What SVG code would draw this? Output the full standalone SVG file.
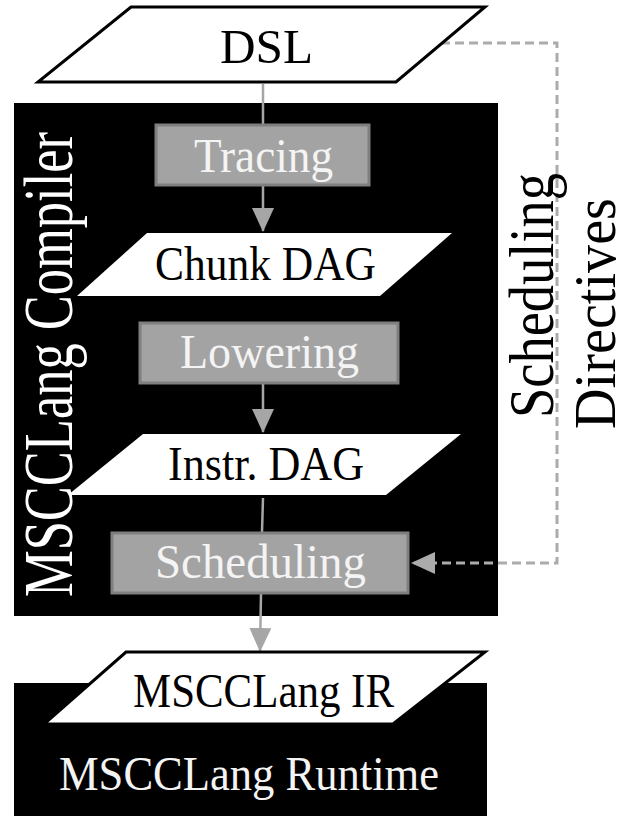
<svg xmlns="http://www.w3.org/2000/svg" width="618" height="816" viewBox="0 0 618 816">
<style>
  text { font-family: "Liberation Serif", "Times New Roman", serif; }
  .data { fill: #ffffff; stroke: #000000; stroke-width: 3; stroke-linejoin: miter; }
  .datain { fill: #ffffff; stroke: none; }
  .proc { fill: #a3a3a3; stroke: #7f7f7f; stroke-width: 3; }
  .block { fill: #000000; }
  .lbl { font-size: 48px; fill: #000000; }
  .plbl { font-size: 48px; fill: #f4f4f4; }
  .wlbl { fill: #ffffff; }
  .conn { stroke: #a6a6a6; stroke-width: 2.5; fill: none; }
  .dash { stroke: #ababab; stroke-width: 3; fill: none; stroke-dasharray: 9 5; }
</style>
<defs>
  <marker id="ah" markerUnits="userSpaceOnUse" markerWidth="24" markerHeight="22" refX="23" refY="11" orient="auto">
    <path d="M0,0 L24,11 L0,22 z" fill="#a6a6a6"/>
  </marker>
  <marker id="ahd" markerUnits="userSpaceOnUse" markerWidth="24" markerHeight="22" refX="23" refY="11" orient="auto">
    <path d="M0,0 L24,11 L0,22 z" fill="#ababab"/>
  </marker>
</defs>

<g id="compiler">
  <rect class="block" x="14" y="103" width="484" height="513"/>
  <text class="wlbl" font-size="70" transform="translate(72,597) rotate(-90)" textLength="465" lengthAdjust="spacingAndGlyphs">MSCCLang Compiler</text>
</g>

<g id="runtime">
  <rect class="block" x="14" y="683" width="473" height="133"/>
  <text class="plbl" x="59" y="790" fill="#ffffff" textLength="380" lengthAdjust="spacingAndGlyphs">MSCCLang Runtime</text>
</g>

<g id="connectors">
  <line class="conn" x1="263" y1="84" x2="263" y2="124"/>
  <line class="conn" x1="263" y1="186" x2="263" y2="231" marker-end="url(#ah)"/>
  <line class="conn" x1="263" y1="384" x2="263" y2="432" marker-end="url(#ah)"/>
  <line class="conn" x1="263" y1="498" x2="262" y2="532"/>
  <line class="conn" x1="261" y1="594" x2="260" y2="651" marker-end="url(#ah)"/>
  <path class="dash" d="M441,43 H557 V563 H412" marker-end="url(#ahd)"/>
</g>

<g id="dsl">
  <polygon class="data" points="131,7 485,7 396,82 38,82"/>
  <text class="lbl" font-size="53" x="220" y="63" textLength="93" lengthAdjust="spacingAndGlyphs">DSL</text>
</g>

<g id="tracing">
  <rect class="proc" x="156" y="125" width="213" height="60"/>
  <text class="plbl" x="194" y="172" textLength="139" lengthAdjust="spacingAndGlyphs">Tracing</text>
</g>

<g id="chunkdag">
  <polygon class="datain" points="147,233 452,233 380,296 77,296"/>
  <text class="lbl" x="155" y="280" textLength="221" lengthAdjust="spacingAndGlyphs">Chunk DAG</text>
</g>

<g id="lowering">
  <rect class="proc" x="140" y="323" width="258" height="60"/>
  <text class="plbl" x="180" y="368" textLength="179" lengthAdjust="spacingAndGlyphs">Lowering</text>
</g>

<g id="instrdag">
  <polygon class="datain" points="143,434 461,434 386,495 68,495"/>
  <text class="lbl" x="168" y="480" textLength="196" lengthAdjust="spacingAndGlyphs">Instr. DAG</text>
</g>

<g id="scheduling">
  <rect class="proc" x="112" y="533" width="296" height="60"/>
  <text class="plbl" x="155" y="578" textLength="211" lengthAdjust="spacingAndGlyphs">Scheduling</text>
</g>

<g id="ir">
  <polygon class="data" points="126,652 485,652 393,724 44,724"/>
  <text class="lbl" x="133" y="707" textLength="261" lengthAdjust="spacingAndGlyphs">MSCCLang IR</text>
</g>

<g id="directives-label">
  <text font-size="64" fill="#000000" transform="translate(553,418) rotate(-90)" textLength="245" lengthAdjust="spacingAndGlyphs">Scheduling</text>
  <text font-size="60" fill="#000000" transform="translate(615,429) rotate(-90)" textLength="231" lengthAdjust="spacingAndGlyphs">Directives</text>
</g>
</svg>
